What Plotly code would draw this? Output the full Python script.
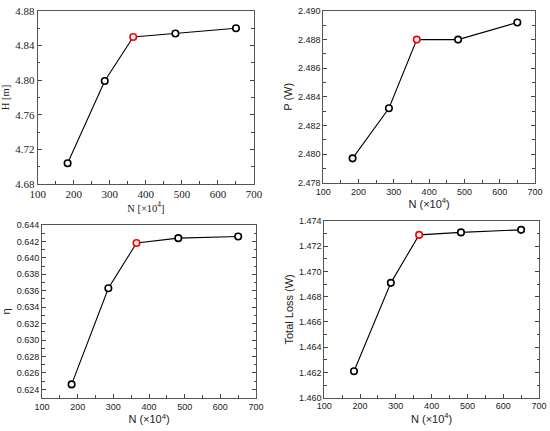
import plotly.graph_objects as go

n_vals = [183, 286, 365, 482, 650]
head = [4.704, 4.799, 4.850, 4.854, 4.860]
power = [2.4797, 2.4832, 2.4880, 2.4880, 2.4892]
eta = [0.6246, 0.6363, 0.6418, 0.6424, 0.6426]
loss = [1.4621, 1.4691, 1.4729, 1.4731, 1.4733]

# third point is the chosen mesh, drawn in red
mark_cols = ["black", "black", "red", "black", "black"]

panels = [
    # values, y title, x title, y range, y dtick, y minor, font, tickformat, x domain, y domain
    (head, "H [m]", "N [×10<sup>4</sup>]", [4.68, 4.88], 0.04, 0.02,
     "Liberation Serif", ".2f", [0.0685, 0.4618], [0.5731, 0.9745]),
    (power, "P (W)", "N (×10<sup>4</sup>)", [2.478, 2.490], 0.002, 0.001,
     "Liberation Sans", ".3f", [0.5878, 0.9727], [0.5761, 0.9745]),
    (eta, "η", "N (×10<sup>4</sup>)", [0.62295, 0.644], 0.002, 0.001,
     "Liberation Sans", ".3f", [0.0764, 0.4655], [0.0766, 0.4780]),
    (loss, "Total Loss (W)", "N (×10<sup>4</sup>)", [1.460, 1.474], 0.002, 0.001,
     "Liberation Sans", ".3f", [0.5896, 0.9800], [0.0773, 0.4872]),
]

fig = go.Figure()
layout = {}
for i, (vals, ytitle, xtitle, yrange, dtick, minor, font, fmt, xdom, ydom) in enumerate(panels):
    k = "" if i == 0 else str(i + 1)
    fig.add_trace(go.Scatter(
        x=n_vals, y=vals, mode="lines+markers",
        xaxis="x" + k, yaxis="y" + k,
        line=dict(color="black", width=1.1),
        marker=dict(symbol="circle", size=6.5, color="white",
                    line=dict(color=mark_cols, width=1.6)),
        showlegend=False,
    ))
    tick_size = 11 if i == 0 else 9
    title_size = 10.5 if i == 0 else 11
    layout["xaxis" + k] = dict(
        domain=xdom, anchor="y" + k, range=[100, 700], dtick=100, automargin=False,
        ticks="inside", ticklen=4, tickcolor="#444", showline=True,
        linecolor="#555", linewidth=1, mirror=True, showgrid=False, zeroline=False,
        minor=dict(dtick=50, ticks="inside", ticklen=2.5, tickcolor="#444"),
        tickfont=dict(family=font, size=tick_size, color="#222"),
        title=dict(text=xtitle, font=dict(family=font, size=title_size, color="#222"),
                   standoff=1),
    )
    layout["yaxis" + k] = dict(
        domain=ydom, anchor="x" + k, range=yrange, dtick=dtick, tickformat=fmt,
        automargin=False,
        ticks="inside", ticklen=4, tickcolor="#444", showline=True,
        linecolor="#555", linewidth=1, mirror="ticks", showgrid=False, zeroline=False,
        minor=dict(dtick=minor, ticks="inside", ticklen=2.5, tickcolor="#444"),
        tickfont=dict(family=font, size=tick_size, color="#222"),
        title=dict(text=ytitle, font=dict(family=font, size=title_size, color="#222"),
                   standoff=3),
    )

fig.update_layout(
    width=550, height=431,
    margin=dict(l=0, r=0, t=0, b=0),
    paper_bgcolor="white", plot_bgcolor="white",
    **layout,
)
# page body has a default 8px margin, drop it so the figure fills the window
fig.write_html("out.html", config={"displayModeBar": False},
               post_script="document.body.style.margin='0';")
